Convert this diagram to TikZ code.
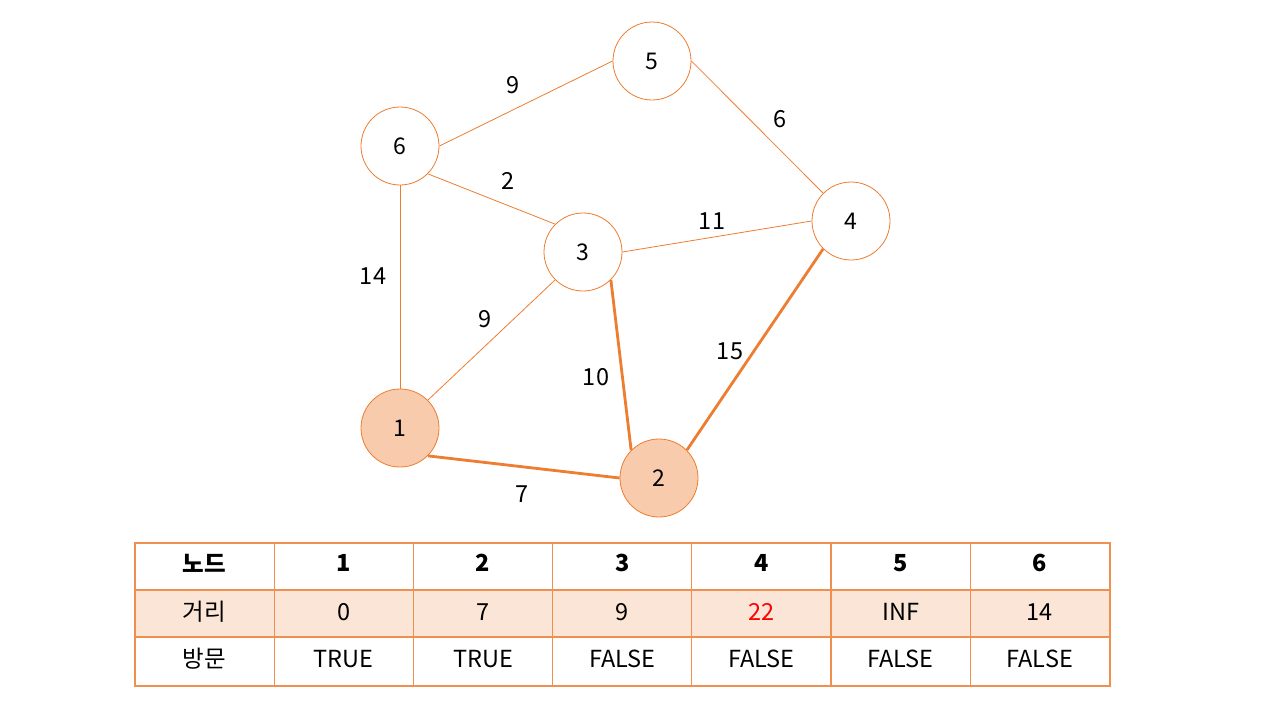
\documentclass[tikz,border=0pt]{standalone}
\usepackage{fontspec}
\setmainfont{Noto Sans CJK KR}
\usetikzlibrary{positioning}
\definecolor{pptorange}{RGB}{237,125,49}
\definecolor{visitfill}{RGB}{248,203,173}
\definecolor{rowfill}{RGB}{251,229,214}
\newcommand{\cellfont}{\fontsize{23.5}{27}\selectfont}

\begin{document}
\begin{tikzpicture}[x=1pt, y=-1pt,
    vertex/.style={circle, draw=pptorange, line width=0.8pt, fill=white,
        minimum size=78pt, inner sep=0pt, font=\fontsize{23}{27}\selectfont},
    visited/.style={vertex, fill=visitfill},
    edge/.style={draw=pptorange, line width=0.8pt},
    treeedge/.style={draw=pptorange, line width=2.8pt},
    weight/.style={inner sep=0pt, font=\fontsize{23.5}{27}\selectfont},
    cell/.style={inner sep=0pt, font=\cellfont},
    tablerule/.style={draw=pptorange!85, line width=1.2pt}]
    \useasboundingbox (0,0) rectangle (1280,720);
    % vertices
    \node[vertex]  (n5) at (652,61)  {5};
    \node[vertex]  (n6) at (400,146) {6};
    \node[vertex]  (n3) at (583,252) {3};
    \node[vertex]  (n4) at (851,221) {4};
    \node[visited] (n1) at (400,428) {1};
    \node[visited] (n2) at (659,478) {2};
    % edges
    \draw[edge] (n6.east) -- (n5.west);
    \draw[edge] (n5.east) -- (n4.north west);
    \draw[edge] (n6.south east) -- (n3.north west);
    \draw[edge] (n3.east) -- (n4.west);
    \draw[edge] (n6.south) -- (n1.north);
    \draw[edge] (n1.north east) -- (n3.south west);
    \draw[treeedge] (n3.south east) -- (n2.north west);
    \draw[treeedge] (n2.north east) -- (n4.south west);
    \draw[treeedge] (n1.south east) -- (n2.west);
    % weights
    \node[weight] (w65) at (513,85)  {9};
    \node[weight] (w54) at (780,119) {6};
    \node[weight] (w63) at (508,181) {2};
    \node[weight] (w34) at (712,221) {11};
    \node[weight] (w61) at (373,276) {14};
    \node[weight] (w13) at (485,319) {9};
    \node[weight] (w32) at (596,377) {10};
    \node[weight] (w24) at (730,351) {15};
    \node[weight] (w12) at (522,494) {7};
    % table
    \fill[rowfill] (135,590) rectangle (1110,637);
    \foreach \c/\hd/\dist/\vis in {0/노드/거리/방문, 1/1/0/TRUE, 2/2/7/TRUE,
        3/3/9/FALSE, 4/4/{\textcolor{red}{22}}/FALSE, 5/5/INF/FALSE, 6/6/14/FALSE} {
        \pgfmathsetmacro{\cx}{135 + 139.2*(\c + 0.5)}
        \node[cell, font=\cellfont\bfseries] (h\c) at (\cx,563) {\hd};
        \node[cell] (d\c) at (\cx,612) {\dist};
        \node[cell] (v\c) at (\cx,659) {\vis};
        \draw[tablerule] (135 + 139.2*\c,543) -- (135 + 139.2*\c,686);
    }
    \draw[tablerule] (135,543) rectangle (1110,686);
    \draw[tablerule] (135,590) -- (1110,590);
    \draw[tablerule] (135,637) -- (1110,637);
\end{tikzpicture}
\end{document}
